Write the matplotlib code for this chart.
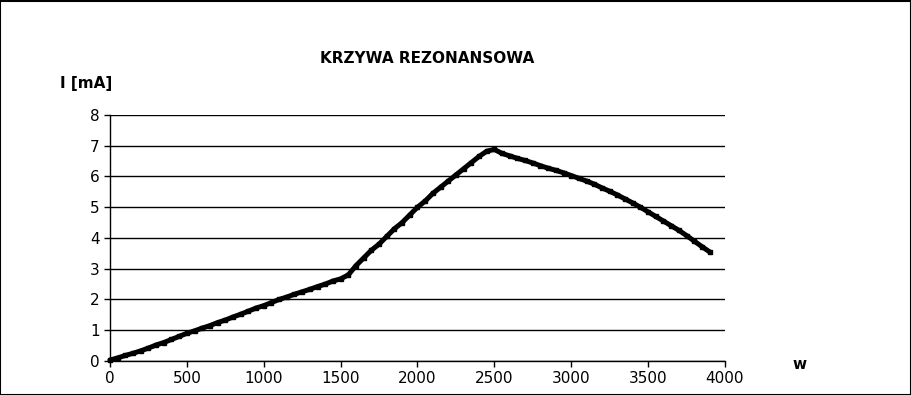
import matplotlib
matplotlib.use("Agg")
import matplotlib.pyplot as plt
from matplotlib.patches import Rectangle

# ------------------------------------------
# Data
# ------------------------------------------

w = [0, 50, 100, 150, 200, 250, 300, 350, 400, 450,
     500, 550, 600, 650, 700, 750, 800, 850, 900, 950,
     1000, 1050, 1100, 1150, 1200, 1250, 1300, 1350, 1400, 1450,
     1500, 1550, 1600, 1650, 1700, 1750, 1800, 1850, 1900, 1950,
     2000, 2050, 2100, 2150, 2200, 2250, 2300, 2350, 2400, 2450,
     2500, 2550, 2600, 2650, 2700, 2750, 2800, 2850, 2900, 2950,
     3000, 3050, 3100, 3150, 3200, 3250, 3300, 3350, 3400, 3450,
     3500, 3550, 3600, 3650, 3700, 3750, 3800, 3850, 3900]

current = [0.03, 0.10, 0.18, 0.25, 0.33, 0.42, 0.52, 0.60, 0.70, 0.80,
           0.90, 0.98, 1.07, 1.15, 1.25, 1.33, 1.43, 1.52, 1.62, 1.72,
           1.80, 1.90, 2.00, 2.08, 2.17, 2.25, 2.33, 2.42, 2.50, 2.60,
           2.67, 2.80, 3.10, 3.35, 3.60, 3.80, 4.05, 4.30, 4.50, 4.75,
           5.00, 5.20, 5.45, 5.65, 5.85, 6.05, 6.25, 6.45, 6.65, 6.82,
           6.88, 6.75, 6.67, 6.59, 6.52, 6.44, 6.35, 6.27, 6.20, 6.12,
           6.03, 5.94, 5.85, 5.75, 5.63, 5.52, 5.40, 5.27, 5.14, 5.00,
           4.85, 4.70, 4.55, 4.40, 4.25, 4.08, 3.90, 3.72, 3.55]

x_ticks = [0, 500, 1000, 1500, 2000, 2500, 3000, 3500, 4000]
y_ticks = [0, 1, 2, 3, 4, 5, 6, 7, 8]

# ------------------------------------------
# Figure
# ------------------------------------------

fig = plt.figure(figsize=(9.12, 3.95), dpi=100)
fig.patches.append(Rectangle((0.0005, 0.001), 0.998, 0.997, transform=fig.transFigure,
                             fill=False, edgecolor='black', linewidth=1.5))

ax = fig.add_axes([0.1206, 0.0861, 0.6743, 0.6228])

ax.plot(w, current, color='black', linewidth=3.6, marker='s', markersize=3,
        solid_capstyle='round', solid_joinstyle='round', zorder=3, clip_on=False)

ax.set_xlim(0, 4000)
ax.set_ylim(0, 8)
ax.set_xticks(x_ticks)
ax.set_yticks(y_ticks)

ax.yaxis.grid(True, color='black', linewidth=1)
ax.set_axisbelow(True)

for side in ['top', 'right']:
    ax.spines[side].set_visible(False)
for side in ['left', 'bottom']:
    ax.spines[side].set_linewidth(1)

ax.tick_params(direction='out', length=4, width=1, labelsize=11, colors='black')

fig.text(0.468, 0.851, "KRZYWA REZONANSOWA", ha='center', va='center',
         fontsize=11, fontweight='bold')
fig.text(0.066, 0.788, "I [mA]", ha='left', va='center', fontsize=11, fontweight='bold')
fig.text(0.877, 0.077, "w", ha='center', va='center', fontsize=11, fontweight='bold')

fig.savefig("out.png", dpi=100)
